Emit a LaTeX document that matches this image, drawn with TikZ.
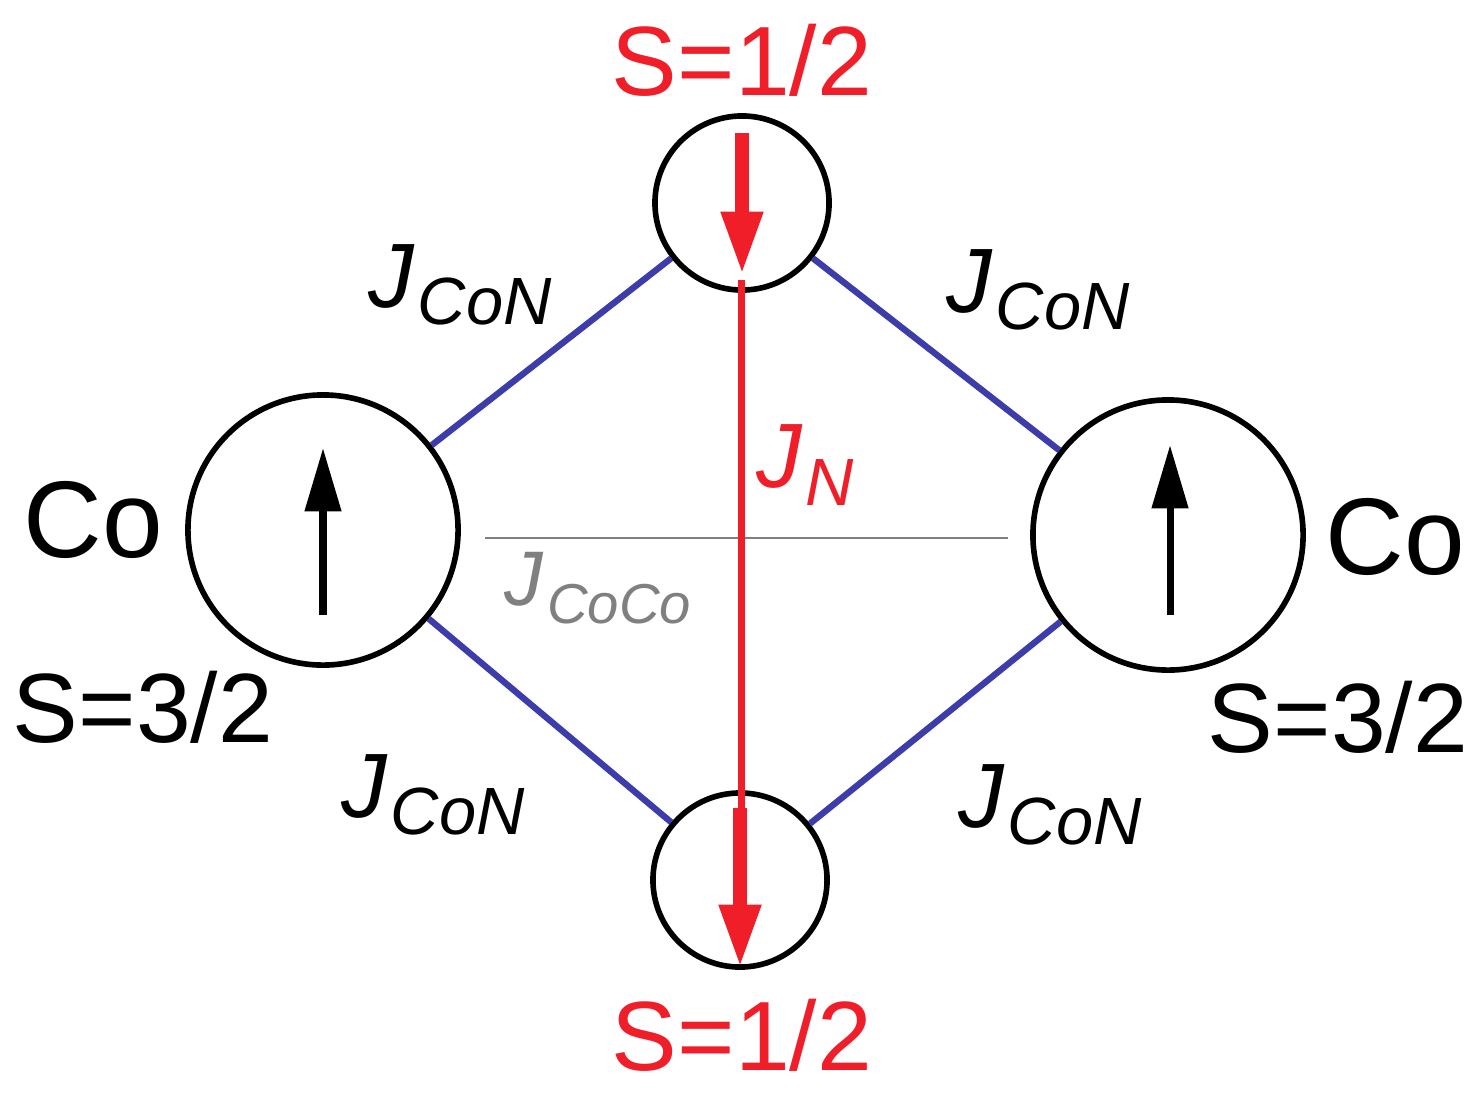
\documentclass[tikz,border=0pt]{standalone}
\usepackage{fontspec}
\setmainfont{Liberation Sans}
\usetikzlibrary{arrows.meta}
\definecolor{bl}{RGB}{60,60,170}
\definecolor{rd}{RGB}{240,30,40}
\newcommand{\jsub}[2]{J\kern1pt\raisebox{-5pt}{\fontsize{#1}{#1}\selectfont #2}}
\begin{document}
\begin{tikzpicture}[x=0.01cm,y=-0.01cm,
  site/.style={circle,draw=black,line width=1.6pt,inner sep=0pt},
  bond/.style={bl,line width=1.8pt},
  lab/.style={font=\fontsize{28}{30}\selectfont},
  jl/.style={font=\fontsize{26}{28}\selectfont\itshape}]
\useasboundingbox (0,0) rectangle (1480,1100);
\node[site,minimum size=1.74cm] (nt) at (742,203) {};
\node[site,minimum size=1.74cm] (nb) at (740,880) {};
\node[site,minimum size=2.7cm] (cl) at (323,530) {};
\node[site,minimum size=2.7cm] (cr) at (1168,535) {};
\draw[bond] (cl) -- (nt);
\draw[bond] (cl) -- (nb);
\draw[bond] (cr) -- (nt);
\draw[bond] (cr) -- (nb);
\coordinate (g1) at (485,538); \coordinate (g2) at (1008,538);
\draw[gray,line width=0.8pt] (g1) -- (g2);
\coordinate (r1) at (741,280); \coordinate (r2) at (741,810);
\draw[rd,line width=2pt] (r1) -- (r2);
\coordinate (a1) at (742,133); \coordinate (a2) at (742,275);
\coordinate (b1) at (740,808); \coordinate (b2) at (740,968);
\draw[rd,line width=4pt,-{Triangle[length=18pt,width=11pt]}] (a1) -- (a2);
\draw[rd,line width=4pt,-{Triangle[length=18pt,width=11pt]}] (b1) -- (b2);
\coordinate (u1) at (323,615); \coordinate (u2) at (323,448);
\coordinate (v1) at (1170,615); \coordinate (v2) at (1170,445);
\draw[line width=2pt,-{Triangle[length=18pt,width=10pt]}] (u1) -- (u2);
\draw[line width=2pt,-{Triangle[length=18pt,width=10pt]}] (v1) -- (v2);
\node[lab,rd] (s1) at (742,60) {S=1/2};
\node[lab,rd] (s2) at (742,1035) {S=1/2};
\node[lab,font=\fontsize{31}{33}\selectfont] (co1) at (93,520) {Co};
\node[lab,font=\fontsize{31}{33}\selectfont] (co2) at (1395,537) {Co};
\node[lab] (s3) at (143,707) {S=3/2};
\node[lab] (s4) at (1338,717) {S=3/2};
\node[jl] (j1) at (460,285) {\jsub{19}{CoN}};
\node[jl] (j2) at (1038,290) {\jsub{19}{CoN}};
\node[jl] (j3) at (433,795) {\jsub{19}{CoN}};
\node[jl] (j4) at (1050,805) {\jsub{19}{CoN}};
\node[jl,rd] (jn) at (805,465) {\jsub{19}{N}};
\node[jl,gray,font=\fontsize{22}{24}\selectfont\itshape] (jc) at (598,588) {\jsub{16}{CoCo}};
\end{tikzpicture}
\end{document}
